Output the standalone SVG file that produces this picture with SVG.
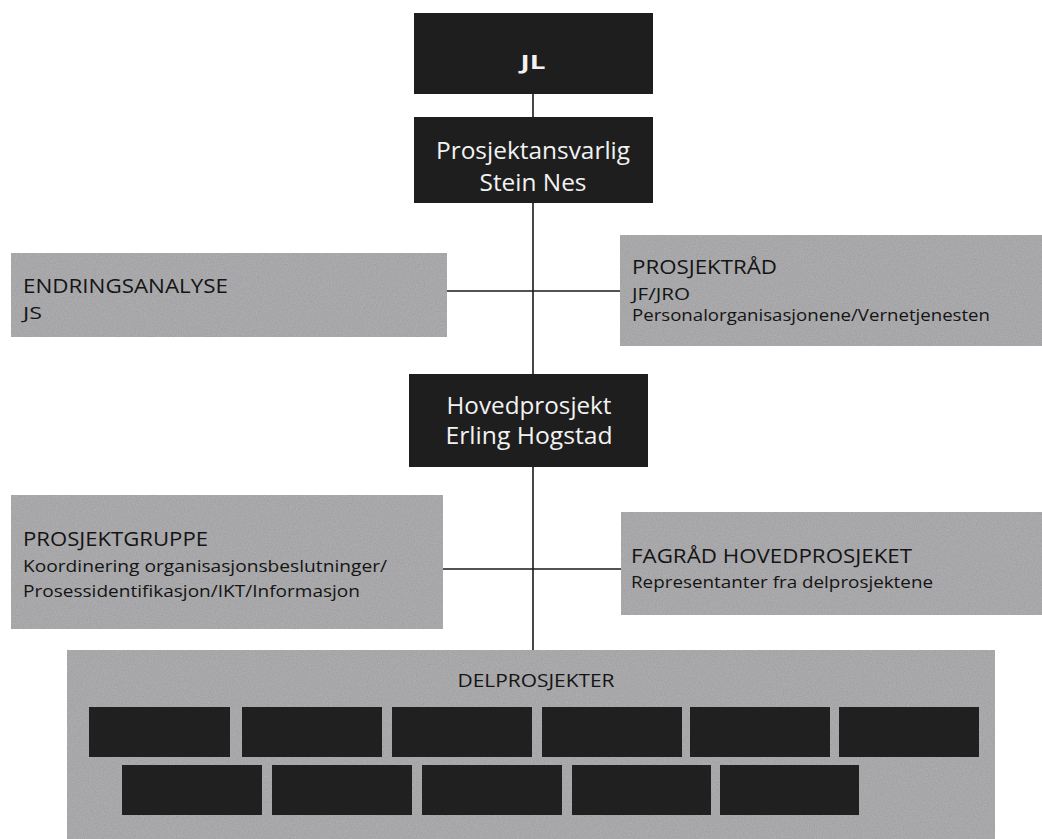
<svg xmlns="http://www.w3.org/2000/svg" width="1042" height="839" viewBox="0 0 1042 839">
  <defs>
    <filter id="grain" x="0" y="0" width="1" height="1">
      <feTurbulence type="fractalNoise" baseFrequency="0.85" numOctaves="2" seed="4" result="n"/>
      <feColorMatrix in="n" type="matrix" values="0 0 0 1 0  0 0 0 1 0  0 0 0 1 0  0 0 0 0 0.12" result="g"/>
      <feComposite in="g" in2="SourceGraphic" operator="in" result="gi"/>
      <feMerge><feMergeNode in="SourceGraphic"/><feMergeNode in="gi"/></feMerge>
    </filter>
    <style>
      .dark { fill: #1e1e1e; }
      .grey { fill: #a5a5a7; filter: url(#grain); }
      .brick { fill: #202020; }
      .wt { font-family: "Open Sans", "Noto Sans", sans-serif; fill: #f2f2f2; text-anchor: middle; }
      .bt { font-family: "Open Sans", "Noto Sans", sans-serif; fill: #141414; }
      .head { font-size: 20px; }
      .sub { font-size: 17px; }
      .conn { stroke: #1a1a1a; stroke-width: 1.6; fill: none; }
    </style>
  </defs>
  <rect width="1042" height="839" fill="#ffffff"/>

  <g id="connectors">
    <line class="conn" x1="533" y1="94" x2="533" y2="117"/>
    <line class="conn" x1="533" y1="203" x2="533" y2="374"/>
    <line class="conn" x1="533" y1="467" x2="533" y2="650"/>
    <line class="conn" x1="447" y1="291" x2="620" y2="291"/>
    <line class="conn" x1="443" y1="569" x2="621" y2="569"/>
  </g>

  <g id="jl">
    <rect class="dark" x="414" y="13" width="239" height="81"/>
    <text class="wt" x="533" y="69" font-size="20" font-weight="bold" textLength="25" lengthAdjust="spacingAndGlyphs">JL</text>
  </g>

  <g id="prosjektansvarlig">
    <rect class="dark" x="414" y="117" width="239" height="86"/>
    <text class="wt" x="533" y="159" font-size="23" textLength="194" lengthAdjust="spacingAndGlyphs">Prosjektansvarlig</text>
    <text class="wt" x="533" y="191" font-size="23" textLength="107" lengthAdjust="spacingAndGlyphs">Stein Nes</text>
  </g>

  <g id="endringsanalyse">
    <rect class="grey" x="11" y="253" width="436" height="84"/>
    <text class="bt head" x="23" y="293" textLength="205" lengthAdjust="spacingAndGlyphs">ENDRINGSANALYSE</text>
    <text class="bt sub" x="23" y="319" textLength="19" lengthAdjust="spacingAndGlyphs">JS</text>
  </g>

  <g id="prosjektraad">
    <rect class="grey" x="620" y="235" width="422" height="111"/>
    <text class="bt head" x="632" y="274" textLength="145" lengthAdjust="spacingAndGlyphs">PROSJEKTRÅD</text>
    <text class="bt sub" x="632" y="300" textLength="58" lengthAdjust="spacingAndGlyphs">JF/JRO</text>
    <text class="bt sub" x="632" y="321" textLength="358" lengthAdjust="spacingAndGlyphs">Personalorganisasjonene/Vernetjenesten</text>
  </g>

  <g id="hovedprosjekt">
    <rect class="dark" x="409" y="374" width="239" height="93"/>
    <text class="wt" x="529" y="414" font-size="23" textLength="165" lengthAdjust="spacingAndGlyphs">Hovedprosjekt</text>
    <text class="wt" x="529" y="444" font-size="23" textLength="167" lengthAdjust="spacingAndGlyphs">Erling Hogstad</text>
  </g>

  <g id="prosjektgruppe">
    <rect class="grey" x="11" y="495" width="432" height="134"/>
    <text class="bt head" x="23" y="546" textLength="185" lengthAdjust="spacingAndGlyphs">PROSJEKTGRUPPE</text>
    <text class="bt sub" x="23" y="572" textLength="364" lengthAdjust="spacingAndGlyphs">Koordinering organisasjonsbeslutninger/</text>
    <text class="bt sub" x="23" y="597" textLength="337" lengthAdjust="spacingAndGlyphs">Prosessidentifikasjon/IKT/Informasjon</text>
  </g>

  <g id="fagraad">
    <rect class="grey" x="621" y="512" width="421" height="103"/>
    <text class="bt head" x="631" y="563" textLength="281" lengthAdjust="spacingAndGlyphs">FAGRÅD HOVEDPROSJEKET</text>
    <text class="bt sub" x="631" y="588" textLength="302" lengthAdjust="spacingAndGlyphs">Representanter fra delprosjektene</text>
  </g>

  <g id="delprosjekter">
    <rect class="grey" x="67" y="650" width="928" height="189"/>
    <text class="bt" x="536" y="687" font-size="19" text-anchor="middle" textLength="157" lengthAdjust="spacingAndGlyphs">DELPROSJEKTER</text>
    <rect class="brick" x="89" y="707" width="141" height="50"/>
    <rect class="brick" x="242" y="707" width="140" height="50"/>
    <rect class="brick" x="392" y="707" width="140" height="50"/>
    <rect class="brick" x="542" y="707" width="140" height="50"/>
    <rect class="brick" x="690" y="707" width="140" height="50"/>
    <rect class="brick" x="839" y="707" width="140" height="50"/>
    <rect class="brick" x="122" y="765" width="140" height="50"/>
    <rect class="brick" x="272" y="765" width="140" height="50"/>
    <rect class="brick" x="422" y="765" width="140" height="50"/>
    <rect class="brick" x="572" y="765" width="139" height="50"/>
    <rect class="brick" x="720" y="765" width="139" height="50"/>
  </g>
</svg>
